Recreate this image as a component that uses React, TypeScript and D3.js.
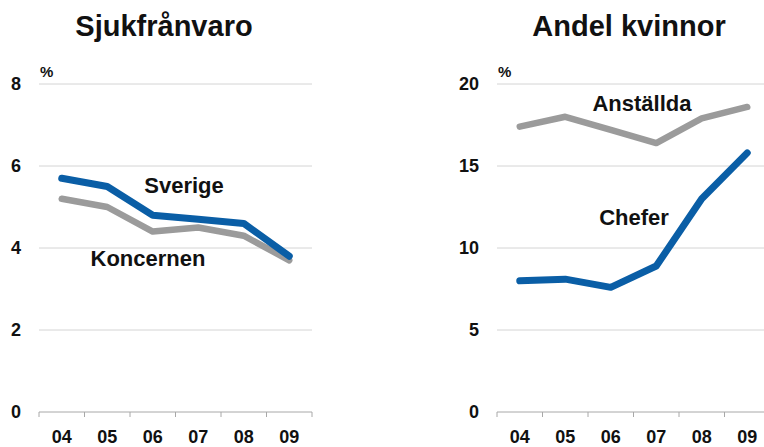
import React from "react";
import * as d3 from "d3";

const years = ["04", "05", "06", "07", "08", "09"];
const sverige = [5.7, 5.5, 4.8, 4.7, 4.6, 3.8];
const koncernen = [5.2, 5.0, 4.4, 4.5, 4.3, 3.7];
const anstallda = [17.4, 18.0, 17.2, 16.4, 17.9, 18.6];
const chefer = [8.0, 8.1, 7.6, 8.9, 13.0, 15.8];
const leftTicks = [0, 2, 4, 6, 8];
const rightTicks = [0, 5, 10, 15, 20];

const BLUE = "#0A5EA6";
const GRAY = "#9B9B9B";
const FONT = "'Liberation Sans', Arial, sans-serif";

type Series = { values: number[]; color: string; width: number; label: string; lx: number; ly: number };

function Panel(props: {
  x0: number; x1: number; max: number; ticks: number[]; title: string; titleX: number;
  labelX: number; series: Series[];
}) {
  const { x0, x1, max, ticks, title, titleX, labelX, series } = props;
  const x = d3.scaleBand<string>().domain(years).range([x0, x1]);
  const y = d3.scaleLinear().domain([0, max]).range([412, 84]);
  const line = d3.line<number>()
    .x((_, i) => (x(years[i]) as number) + x.bandwidth() / 2)
    .y((d) => y(d));
  const tickXs = years.map((yr) => x(yr) as number).concat([x1]);
  return (
    <g>
      <text x={titleX} y={36} textAnchor="middle" fontSize={29} fontWeight="bold" fill="#111">{title}</text>
      {ticks.filter((t) => t > 0).map((t) => (
        <line key={t} x1={x0} x2={x1} y1={y(t)} y2={y(t)} stroke="#d4d4d4" strokeWidth={1} />
      ))}
      {ticks.map((t) => (
        <text key={"l" + t} x={labelX} y={y(t) + 6} textAnchor="end" fontSize={18} fontWeight="bold" fill="#111">{t}</text>
      ))}
      <text x={x0 + 1} y={y(max) - 7} fontSize={15} fontWeight="bold" fill="#111">%</text>
      <line x1={x0} x2={x1} y1={y(0)} y2={y(0)} stroke="#a8a8a8" strokeWidth={1} />
      {tickXs.map((tx, i) => (
        <line key={"t" + i} x1={tx} x2={tx} y1={y(0)} y2={y(0) + 5} stroke="#a8a8a8" strokeWidth={1} />
      ))}
      {years.map((yr) => (
        <text key={"x" + yr} x={(x(yr) as number) + x.bandwidth() / 2} y={443} textAnchor="middle" fontSize={18} fontWeight="bold" fill="#111">{yr}</text>
      ))}
      {series.map((s) => (
        <path key={s.label} d={line(s.values) as string} fill="none" stroke={s.color} strokeWidth={s.width} strokeLinejoin="round" strokeLinecap="round" />
      ))}
      {series.map((s) => (
        <text key={"lab" + s.label} x={s.lx} y={s.ly} textAnchor="middle" fontSize={22} fontWeight="bold" fill="#111">{s.label}</text>
      ))}
    </g>
  );
}

export default function App() {
  return (
    <svg width={764} height={447} style={{ position: "absolute", left: 0, top: 0, background: "#fff" }} fontFamily={FONT}>
      <rect width={764} height={447} fill="#fff" />
      <Panel x0={39} x1={312} max={8} ticks={leftTicks} title="Sjukfrånvaro" titleX={164} labelX={21}
        series={[
          { values: koncernen, color: GRAY, width: 6.5, label: "Koncernen", lx: 148, ly: 266 },
          { values: sverige, color: BLUE, width: 7, label: "Sverige", lx: 184, ly: 193 },
        ]} />
      <Panel x0={497} x1={770} max={20} ticks={rightTicks} title="Andel kvinnor" titleX={629} labelX={479}
        series={[
          { values: anstallda, color: GRAY, width: 6.5, label: "Anställda", lx: 642, ly: 111 },
          { values: chefer, color: BLUE, width: 7, label: "Chefer", lx: 634, ly: 225 },
        ]} />
    </svg>
  );
}
